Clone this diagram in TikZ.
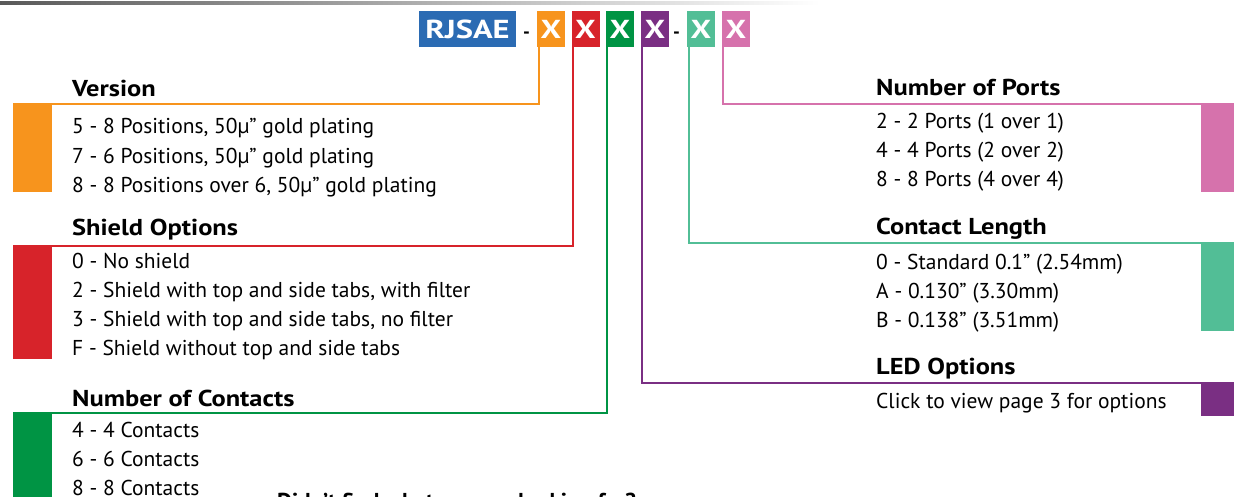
\documentclass[tikz,border=0pt]{standalone}
\usepackage{fontspec}
\setmainfont{PT Sans}
\newfontfamily\headfont[FakeStretch=1.15]{PT Sans}
\newfontfamily\codefont[FakeStretch=1.25]{PT Sans}
\definecolor{cblue}{HTML}{2B6BB3}
\definecolor{corange}{HTML}{F7941D}
\definecolor{cred}{HTML}{D7232A}
\definecolor{cgreen}{HTML}{009444}
\definecolor{cpurple}{HTML}{7A2F83}
\definecolor{cteal}{HTML}{52BE96}
\definecolor{cpink}{HTML}{D672AC}
\begin{document}
\begin{tikzpicture}[x=1pt, y=-1pt]
            % 定义样式
            \tikzstyle{code box}=[inner sep=0pt, text=white, font=\codefont\bfseries\fontsize{26}{26}\selectfont, minimum height=36pt]
            \tikzstyle{x box}=[code box, minimum width=28pt]
            \tikzstyle{hyphen mark}=[inner sep=0pt, anchor=base, font=\bfseries\fontsize{19}{19}\selectfont]
            \tikzstyle{left bar}=[inner sep=0pt, minimum width=39pt, anchor=north west]
            \tikzstyle{right bar}=[inner sep=0pt, minimum width=33pt, anchor=north east]
            \tikzstyle{head}=[inner sep=0pt, anchor=base west, font=\headfont\bfseries\fontsize{23}{23}\selectfont]
            \tikzstyle{item}=[inner sep=0pt, anchor=base west, font=\fontsize{21.5}{21.5}\selectfont]
            \tikzstyle{link}=[line width=2pt]

            \useasboundingbox (0,0) rectangle (1234,497);
            \clip (0,0) rectangle (1234,497);

            % 顶部灰线
            \shade[left color=black!65, right color=white] (0,2) rectangle (820,5);

            % 型号代码
            \node[code box, fill=cblue, minimum width=97pt] (code) at (467.5,29) {RJSAE};
            \node[hyphen mark] (d1) at (526.5,38.5) {-};
            \node[x box, fill=corange] (xo) at (551,29) {X};
            \node[x box, fill=cred] (xr) at (585.5,29) {X};
            \node[x box, fill=cgreen] (xg) at (620,29) {X};
            \node[x box, fill=cpurple] (xp) at (655,29) {X};
            \node[hyphen mark] (d2) at (676.5,38.5) {-};
            \node[x box, fill=cteal] (xt) at (701,29) {X};
            \node[x box, fill=cpink] (xk) at (736,29) {X};

            % 左侧色块
            \node[left bar, fill=corange, minimum height=88pt] (vbar) at (13,104) {};
            \node[left bar, fill=cred, minimum height=113pt] (sbar) at (13,246) {};
            \node[left bar, fill=cgreen, minimum height=90pt] (cbar) at (13,413) {};
            % 右侧色块
            \node[right bar, fill=cpink, minimum height=88pt] (pbar) at (1234,104) {};
            \node[right bar, fill=cteal, minimum height=88pt] (lbar) at (1234,242.5) {};
            \node[right bar, fill=cpurple, minimum height=33pt] (obar) at (1234,383) {};

            % 连线
            \draw[link, corange] ([xshift=2pt]xo.south west) |- (vbar.north west);
            \draw[link, cred] ([xshift=1.5pt]xr.south west) |- (sbar.north west);
            \draw[link, cgreen] ([xshift=1.5pt]xg.south west) |- (cbar.north west);
            \draw[link, cpurple] ([xshift=1.5pt]xp.south west) |- (obar.north east);
            \draw[link, cteal] ([xshift=2pt]xt.south west) |- (lbar.north east);
            \draw[link, cpink] ([xshift=1.5pt]xk.south west) |- (pbar.north east);

            % Version
            \node[head] (ver) at (72,97) {Version};
            \node[item] (ver1) at (72,134) {5 - 8 Positions, 50µ” gold plating};
            \node[item] (ver2) at (72,163.5) {7 - 6 Positions, 50µ” gold plating};
            \node[item] (ver3) at (72,193) {8 - 8 Positions over 6, 50µ” gold plating};

            % Shield Options
            \node[head] (shd) at (72,236) {Shield Options};
            \node[item] (shd1) at (72,268.5) {0 - No shield};
            \node[item] (shd2) at (72,297.5) {2 - Shield with top and side tabs, with filter};
            \node[item] (shd3) at (72,326.5) {3 - Shield with top and side tabs, no filter};
            \node[item] (shd4) at (72,355.5) {F - Shield without top and side tabs};

            % Number of Contacts
            \node[head] (con) at (72,406) {Number of Contacts};
            \node[item] (con1) at (72,437.5) {4 - 4 Contacts};
            \node[item] (con2) at (72,466.5) {6 - 6 Contacts};
            \node[item] (con3) at (72,495.5) {8 - 8 Contacts};

            % Number of Ports
            \node[head] (prt) at (876,96) {Number of Ports};
            \node[item] (prt1) at (876,128.5) {2 - 2 Ports (1 over 1)};
            \node[item] (prt2) at (876,157.5) {4 - 4 Ports (2 over 2)};
            \node[item] (prt3) at (876,186.5) {8 - 8 Ports (4 over 4)};

            % Contact Length
            \node[head] (len) at (876,235) {Contact Length};
            \node[item] (len1) at (876,269.5) {0 - Standard 0.1” (2.54mm)};
            \node[item] (len2) at (876,298.5) {A - 0.130” (3.30mm)};
            \node[item] (len3) at (876,327.5) {B - 0.138” (3.51mm)};

            % LED Options
            \node[head] (led) at (876,374) {LED Options};
            \node[item] (led1) at (876,408.5) {Click to view page 3 for options};

            % 底部文字 (被裁切)
            \node[head, anchor=north west, font=\bfseries\fontsize{23}{23}\selectfont] (more) at (277,493) {Didn’t find what you are looking for?};
        \end{tikzpicture}
\end{document}
